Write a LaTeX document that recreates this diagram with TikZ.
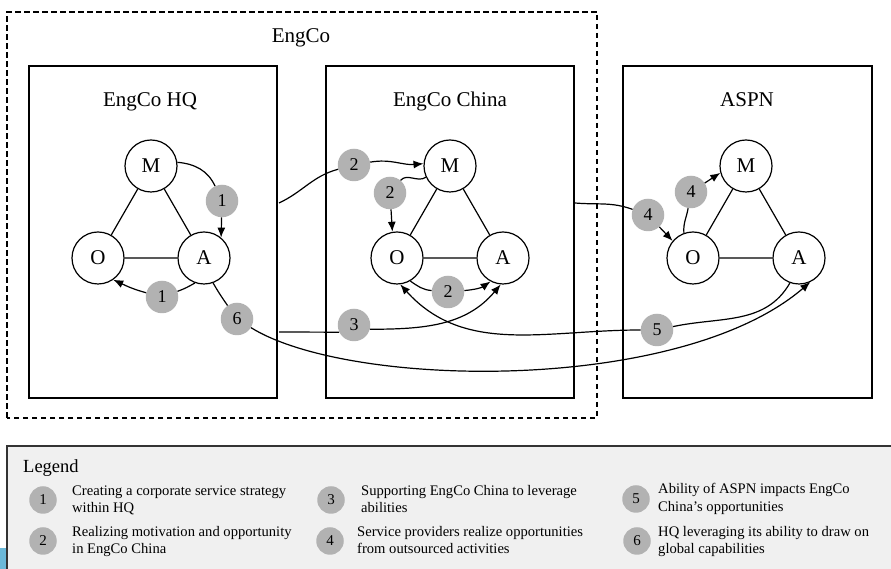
\documentclass[tikz,border=0pt]{standalone}
\usepackage{fontspec}
\setmainfont{Liberation Serif}
\usetikzlibrary{arrows.meta}
\begin{document}
\begin{tikzpicture}[x=1pt,y=1pt,
  box/.style={draw, line width=1.1pt},
  mnode/.style={circle, draw, fill=white, line width=1.2pt, minimum size=52pt, inner sep=0pt, font=\fontsize{21}{21}\selectfont},
  badge/.style={circle, fill=black!30, minimum size=32.5pt, inner sep=0pt, font=\fontsize{18}{18}\selectfont},
  lbadge/.style={circle, fill=black!30, minimum size=27.5pt, inner sep=0pt, font=\fontsize{15}{15}\selectfont},
  conn/.style={line width=1.2pt},
  arr/.style={conn, -{Latex[length=10pt,width=8pt]}},
  title/.style={anchor=base, inner sep=0pt, font=\fontsize{21}{21}\selectfont},
  legtext/.style={anchor=base west, inner sep=0pt, font=\fontsize{14.6}{17}\selectfont}]
\clip (0,0) rectangle (891,569);
% legend panel
\draw[fill=black!6, draw=black!80, line width=1.6pt] (7,-10) rectangle (900,123);
\fill[color={rgb,255:red,107;green,184;blue,216}] (0,0) rectangle (5.5,21);
% boxes
\draw[line width=1.1pt, dash pattern=on 5.5pt off 3.5pt] (7,151) rectangle (597,557);
\node[box, minimum width=248pt, minimum height=332pt, inner sep=0pt] (hqbox) at (153,337) {};
\node[box, minimum width=248pt, minimum height=332pt, inner sep=0pt] (chbox) at (450,337) {};
\node[box, minimum width=249pt, minimum height=332pt, inner sep=0pt] (asbox) at (747.5,337) {};
% titles
\node[title] (tEng) at (301,526) {EngCo};
\node[title] (tHQ) at (150,462) {EngCo HQ};
\node[title] (tCh) at (450,462) {EngCo China};
\node[title] (tAS) at (747,462) {ASPN};
% MOA nodes
\node[mnode] (hqM) at (151,403) {M};
\node[mnode] (hqO) at (98,311) {O};
\node[mnode] (hqA) at (204,311) {A};
\node[mnode] (chM) at (450,403) {M};
\node[mnode] (chO) at (397,311) {O};
\node[mnode] (chA) at (503,311) {A};
\node[mnode] (asM) at (746,403) {M};
\node[mnode] (asO) at (693,311) {O};
\node[mnode] (asA) at (799,311) {A};
\draw[conn] (hqM) -- (hqO) (hqM) -- (hqA) (hqO) -- (hqA);
\draw[conn] (chM) -- (chO) (chM) -- (chA) (chO) -- (chA);
\draw[conn] (asM) -- (asO) (asM) -- (asA) (asO) -- (asA);
% badges
\node[badge] (b1a) at (222,368) {1};
\node[badge] (b1b) at (162,272) {1};
\node[badge] (b6) at (237,250) {6};
\node[badge] (b2a) at (354,404) {2};
\node[badge] (b2b) at (390,376) {2};
\node[badge] (b2c) at (448,277) {2};
\node[badge] (b3) at (354,244) {3};
\node[badge] (b4a) at (648,354) {4};
\node[badge] (b4b) at (691,377) {4};
\node[badge] (b5) at (657,239) {5};
\coordinate (c2) at (279,366);
\coordinate (c3) at (279,237);
\coordinate (c4) at (575,366);
% connectors
\draw[conn] (hqM.8) to[out=-5, in=115] (b1a);
\draw[arr] (b1a) -- (hqA.50);
\draw[conn] (hqA.250) to[out=210, in=20] (b1b);
\draw[arr] (b1b) to[out=165, in=-25] (hqO.-55);
\draw[conn] (hqA.-70) to[out=-60, in=125] (b6);
\draw[arr] (b6) .. controls (350,180) and (680,175) .. (asA.-65);
\draw[conn] (c2) to[out=25, in=195] (b2a);
\draw[arr] (b2a) to[out=10, in=185] (chM.175);
\draw[conn] (chM.205) to[out=215, in=50] (b2b);
\draw[arr] (b2b) -- (chO.100);
\draw[conn] (chO.-60) to[out=-35, in=175] (b2c);
\draw[arr] (b2c) to[out=5, in=-145] (chA.-118);
\draw[conn] (c3) -- (b3.206);
\draw[arr] (b3.-15) to[out=0, in=-130] (chA.-95);
\draw[conn] (asA.-110) to[out=-120, in=12] (b5);
\draw[arr] (b5) to[out=180, in=-48] (chO.-83);
\draw[conn] (c4) to[out=-5, in=160] (b4a);
\draw[arr] (b4a) -- (asO.140);
\draw[conn] (asO.110) to[out=95, in=-100] (b4b);
\draw[arr] (b4b) -- (asM.195);
% legend
\node[anchor=base west, inner sep=0pt, font=\fontsize{18.5}{18.5}\selectfont] (leg) at (23,96) {Legend};
\node[lbadge] (l1) at (43,69) {1};
\node[lbadge] (l2) at (43,28) {2};
\node[lbadge] (l3) at (331,69) {3};
\node[lbadge] (l4) at (330,28) {4};
\node[lbadge] (l5) at (636,70) {5};
\node[lbadge] (l6) at (637,28) {6};
\node[legtext] (t1a) at (72,73) {Creating a corporate service strategy};
\node[legtext] (t1b) at (72,56) {within HQ};
\node[legtext] (t2a) at (72,32) {Realizing motivation and opportunity};
\node[legtext] (t2b) at (72,15) {in EngCo China};
\node[legtext] (t3a) at (361,73) {Supporting EngCo China to leverage};
\node[legtext] (t3b) at (361,56) {abilities};
\node[legtext] (t4a) at (357,32) {Service providers realize opportunities};
\node[legtext] (t4b) at (357,15) {from outsourced activities};
\node[legtext] (t5a) at (658,75) {Ability of ASPN impacts EngCo};
\node[legtext] (t5b) at (658,57) {China’s opportunities};
\node[legtext] (t6a) at (658,32) {HQ leveraging its ability to draw on};
\node[legtext] (t6b) at (658,15) {global capabilities};
\end{tikzpicture}
\end{document}
